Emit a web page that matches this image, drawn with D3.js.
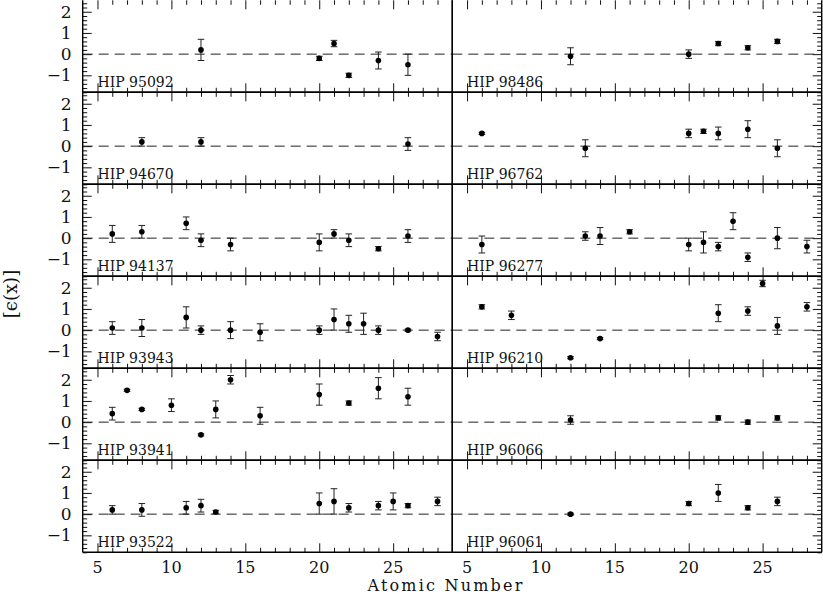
<!DOCTYPE html>
<html>
<head>
<meta charset="utf-8">
<script src="https://cdn.jsdelivr.net/npm/d3@7"></script>
<style>
body { margin: 0; background: #fff; }
svg { display: block; }
</style>
</head>
<body>
<script>
const width = 823;
const height = 594;

// Stars, top to bottom
const leftStars = ["HIP 95092", "HIP 94670", "HIP 94137", "HIP 93943", "HIP 93941", "HIP 93522"];
const rightStars = ["HIP 98486", "HIP 96762", "HIP 96277", "HIP 96210", "HIP 96066", "HIP 96061"];

// Atomic number, value, error bar half length
const hip95092Z = [12, 20, 21, 22, 24, 26];
const hip95092Val = [0.2, -0.2, 0.5, -1.0, -0.3, -0.5];
const hip95092Err = [0.5, 0.1, 0.15, 0.1, 0.4, 0.5];

const hip94670Z = [8, 12, 26];
const hip94670Val = [0.2, 0.2, 0.1];
const hip94670Err = [0.2, 0.2, 0.3];

const hip94137Z = [6, 8, 11, 12, 14, 20, 21, 22, 24, 26];
const hip94137Val = [0.2, 0.3, 0.7, -0.1, -0.3, -0.2, 0.2, -0.1, -0.5, 0.1];
const hip94137Err = [0.4, 0.3, 0.3, 0.3, 0.3, 0.4, 0.2, 0.3, 0.1, 0.3];

const hip93943Z = [6, 8, 11, 12, 14, 16, 20, 21, 22, 23, 24, 26, 28];
const hip93943Val = [0.1, 0.1, 0.6, 0.0, 0.0, -0.1, 0.0, 0.5, 0.3, 0.3, 0.0, 0.0, -0.3];
const hip93943Err = [0.3, 0.4, 0.5, 0.2, 0.4, 0.4, 0.2, 0.5, 0.4, 0.5, 0.2, 0.05, 0.2];

const hip93941Z = [6, 7, 8, 10, 12, 13, 14, 16, 20, 22, 24, 26];
const hip93941Val = [0.4, 1.5, 0.6, 0.8, -0.6, 0.6, 2.0, 0.3, 1.3, 0.9, 1.6, 1.2];
const hip93941Err = [0.3, 0.05, 0.05, 0.3, 0.05, 0.4, 0.2, 0.4, 0.5, 0.1, 0.5, 0.4];

const hip93522Z = [6, 8, 11, 12, 13, 20, 21, 22, 24, 25, 26, 28];
const hip93522Val = [0.2, 0.2, 0.3, 0.4, 0.1, 0.5, 0.6, 0.3, 0.4, 0.6, 0.4, 0.6];
const hip93522Err = [0.2, 0.3, 0.3, 0.3, 0.08, 0.5, 0.6, 0.2, 0.2, 0.4, 0.1, 0.2];

const hip98486Z = [12, 20, 22, 24, 26];
const hip98486Val = [-0.1, 0.0, 0.5, 0.3, 0.6];
const hip98486Err = [0.4, 0.2, 0.1, 0.1, 0.1];

const hip96762Z = [6, 13, 20, 21, 22, 24, 26];
const hip96762Val = [0.6, -0.1, 0.6, 0.7, 0.6, 0.8, -0.1];
const hip96762Err = [0.05, 0.4, 0.2, 0.1, 0.3, 0.4, 0.4];

const hip96277Z = [6, 13, 14, 16, 20, 21, 22, 23, 24, 26, 28];
const hip96277Val = [-0.3, 0.1, 0.1, 0.3, -0.3, -0.2, -0.4, 0.8, -0.9, 0.0, -0.4];
const hip96277Err = [0.4, 0.2, 0.4, 0.1, 0.3, 0.5, 0.2, 0.4, 0.2, 0.5, 0.3];

const hip96210Z = [6, 8, 12, 14, 22, 24, 25, 26, 28];
const hip96210Val = [1.1, 0.7, -1.3, -0.4, 0.8, 0.9, 2.2, 0.2, 1.1];
const hip96210Err = [0.1, 0.2, 0.05, 0.05, 0.4, 0.2, 0.15, 0.4, 0.2];

const hip96066Z = [12, 22, 24, 26];
const hip96066Val = [0.1, 0.2, 0.0, 0.2];
const hip96066Err = [0.2, 0.1, 0.1, 0.1];

const hip96061Z = [12, 20, 22, 24, 26];
const hip96061Val = [0.0, 0.5, 1.0, 0.3, 0.6];
const hip96061Err = [0.05, 0.1, 0.4, 0.1, 0.2];

// Axis settings
const xDomain = [4, 29];
const yDomain = [-1.8, 2.54];
const xMajorTicks = [5, 10, 15, 20, 25];
const yMajorTicks = [-1, 0, 1, 2];

const seriesByStar = {
    "HIP 95092": [hip95092Z, hip95092Val, hip95092Err],
    "HIP 94670": [hip94670Z, hip94670Val, hip94670Err],
    "HIP 94137": [hip94137Z, hip94137Val, hip94137Err],
    "HIP 93943": [hip93943Z, hip93943Val, hip93943Err],
    "HIP 93941": [hip93941Z, hip93941Val, hip93941Err],
    "HIP 93522": [hip93522Z, hip93522Val, hip93522Err],
    "HIP 98486": [hip98486Z, hip98486Val, hip98486Err],
    "HIP 96762": [hip96762Z, hip96762Val, hip96762Err],
    "HIP 96277": [hip96277Z, hip96277Val, hip96277Err],
    "HIP 96210": [hip96210Z, hip96210Val, hip96210Err],
    "HIP 96066": [hip96066Z, hip96066Val, hip96066Err],
    "HIP 96061": [hip96061Z, hip96061Val, hip96061Err]
};

// Geometry of the grid
const plotLeft = 82.7;
const plotMid = 452.3;
const plotRight = 821.7;
const plotTop = 0.3;
const rowH = 92;
const font = "'DejaVu Serif', serif";

const xMinor = d3.range(5, 29).filter(v => !xMajorTicks.includes(v));
const yMinor = d3.range(-9, 13).map(i => i / 5).filter(v => !yMajorTicks.includes(v));

const svg = d3.select("body")
    .append("svg")
    .attr("width", width)
    .attr("height", height);

const panels = [];
leftStars.forEach((name, i) => panels.push({ name, col: 0, row: i }));
rightStars.forEach((name, i) => panels.push({ name, col: 1, row: i }));

panels.forEach(p => {
    const x0 = p.col === 0 ? plotLeft : plotMid;
    const x1 = p.col === 0 ? plotMid : plotRight;
    const top = plotTop + p.row * rowH;
    const bottom = top + rowH;

    const x = d3.scaleLinear().domain(xDomain).range([x0, x1]);
    const y = d3.scaleLinear().domain(yDomain).range([bottom, top]);

    const g = svg.append("g");

    // x ticks, inward, top and bottom of the panel
    [[d3.axisBottom, bottom], [d3.axisTop, top]].forEach(([axisFn, ypos]) => {
        g.append("g")
            .attr("transform", `translate(0,${ypos})`)
            .call(axisFn(x).tickValues(xMinor).tickSize(-4.5).tickFormat(""))
            .call(a => a.select(".domain").remove());
        g.append("g")
            .attr("transform", `translate(0,${ypos})`)
            .call(axisFn(x).tickValues(xMajorTicks).tickSize(-9).tickFormat(""))
            .call(a => a.select(".domain").remove());
    });

    // y ticks only on the outer side
    const yAxisFn = p.col === 0 ? d3.axisLeft : d3.axisRight;
    const yPos = p.col === 0 ? x0 : x1;
    g.append("g")
        .attr("transform", `translate(${yPos},0)`)
        .call(yAxisFn(y).tickValues(yMinor).tickSize(-4.5).tickFormat(""))
        .call(a => a.select(".domain").remove());
    g.append("g")
        .attr("transform", `translate(${yPos},0)`)
        .call(yAxisFn(y).tickValues(yMajorTicks).tickSize(-9).tickFormat(""))
        .call(a => a.select(".domain").remove());

    g.selectAll(".tick line").attr("stroke", "#111").attr("stroke-width", 1);

    // y tick labels on the left column
    if (p.col === 0) {
        g.selectAll("text.ylab")
            .data(yMajorTicks)
            .enter()
            .append("text")
            .attr("x", x0 - 11)
            .attr("y", d => y(d))
            .attr("dy", "0.36em")
            .attr("text-anchor", "end")
            .attr("font-family", font)
            .attr("font-size", "17px")
            .attr("fill", "#111")
            .text(d => d3.format("d")(d));
    }

    // x tick labels on the bottom row
    if (p.row === 5) {
        g.selectAll("text.xlab")
            .data(xMajorTicks)
            .enter()
            .append("text")
            .attr("x", d => x(d))
            .attr("y", 573)
            .attr("text-anchor", "middle")
            .attr("font-family", font)
            .attr("font-size", "16px")
            .attr("fill", "#111")
            .text(d => d);
    }

    // zero line
    g.append("line")
        .attr("x1", x0)
        .attr("x2", x1)
        .attr("y1", y(0))
        .attr("y2", y(0))
        .attr("stroke", "#222")
        .attr("stroke-width", 1)
        .attr("stroke-dasharray", "10,6");

    // frame (top edge of the first row is off the picture)
    const frame = [[x0, top, x0, bottom], [x1, top, x1, bottom], [x0, bottom, x1, bottom]];
    if (p.row > 0) frame.push([x0, top, x1, top]);
    g.selectAll("line.frame")
        .data(frame)
        .enter()
        .append("line")
        .attr("x1", d => d[0]).attr("y1", d => d[1])
        .attr("x2", d => d[2]).attr("y2", d => d[3])
        .attr("stroke", "#000")
        .attr("stroke-width", 1.4);

    // star name
    g.append("text")
        .attr("x", x(5))
        .attr("y", bottom - 5)
        .attr("font-family", font)
        .attr("font-size", "14px")
        .attr("fill", "#111")
        .text(p.name);

    // points with error bars
    const [zs, vals, errs] = seriesByStar[p.name];
    const pts = zs.map((z, i) => ({ z, v: vals[i], e: errs[i] }));

    const pt = g.selectAll("g.pt")
        .data(pts)
        .enter()
        .append("g");

    pt.append("line")
        .attr("x1", d => x(d.z)).attr("x2", d => x(d.z))
        .attr("y1", d => y(d.v - d.e)).attr("y2", d => y(d.v + d.e))
        .attr("stroke", "#222").attr("stroke-width", 1);
    pt.append("line")
        .attr("x1", d => x(d.z) - 3.3).attr("x2", d => x(d.z) + 3.3)
        .attr("y1", d => y(d.v - d.e)).attr("y2", d => y(d.v - d.e))
        .attr("stroke", "#222").attr("stroke-width", 1);
    pt.append("line")
        .attr("x1", d => x(d.z) - 3.3).attr("x2", d => x(d.z) + 3.3)
        .attr("y1", d => y(d.v + d.e)).attr("y2", d => y(d.v + d.e))
        .attr("stroke", "#222").attr("stroke-width", 1);
    pt.append("circle")
        .attr("cx", d => x(d.z))
        .attr("cy", d => y(d.v))
        .attr("r", 2.8)
        .attr("fill", "#000");
});

// axis titles
svg.append("text")
    .attr("x", 446)
    .attr("y", 591)
    .attr("text-anchor", "middle")
    .attr("font-family", font)
    .attr("font-size", "16px")
    .attr("letter-spacing", "2.2px")
    .attr("fill", "#111")
    .text("Atomic Number");

svg.append("text")
    .attr("transform", "translate(17,294) rotate(-90)")
    .attr("text-anchor", "middle")
    .attr("font-family", font)
    .attr("font-size", "18px")
    .attr("fill", "#111")
    .text("[ϵ(x)]");
</script>
</body>
</html>
